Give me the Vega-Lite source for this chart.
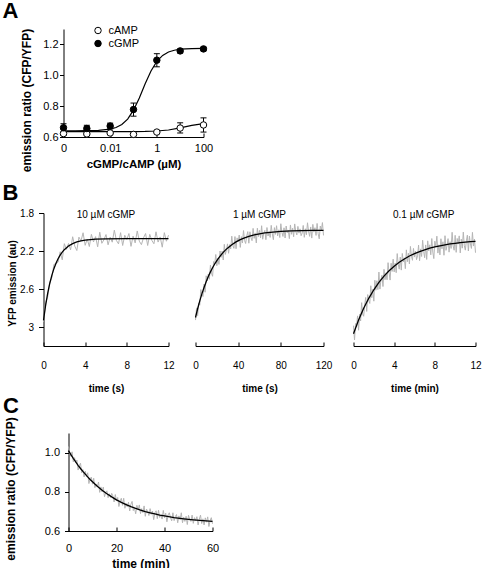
{
  "$schema": "https://vega.github.io/schema/vega-lite/v6.json",
  "padding": {"left": 1.5, "top": 0, "right": 0, "bottom": 0},
  "columns": 1,
  "spacing": -6,
  "resolve": {"scale": {"x": "independent", "y": "independent"}, "legend": {"fill": "independent"}},
  "config": {
    "font": "Liberation Sans",
    "view": {"stroke": null},
    "axis": {"grid": false, "domainColor": "black", "tickColor": "black", "labelColor": "black", "titleColor": "black", "titleFontWeight": "bold", "labelFlush": false, "labelOverlap": false, "labelBound": false, "domainWidth": 1, "tickWidth": 1},
    "title": {"font": "Liberation Sans", "fontWeight": "bold", "fontSize": 22, "color": "black", "anchor": "start", "frame": "group", "baseline": "alphabetic"}
  },
  "concat": [
    {
      "spacing": 0,
      "resolve": {"legend": {"fill": "independent"}},
      "hconcat": [
        {"width": 1, "height": 1, "data": {"values": []}, "mark": {"type": "point"}, "encoding": {}},
        {
          "width": 140,
          "height": 108,
          "title": {"text": "A", "dx": -61, "offset": 2},
          "layer": [
            {
              "data": {"values": [
                {"series": "cGMP", "x": 0.0001, "y": 0.64}, {"series": "cGMP", "x": 0.000316, "y": 0.6402}, {"series": "cGMP", "x": 0.001, "y": 0.6407}, {"series": "cGMP", "x": 0.00316, "y": 0.6428}, {"series": "cGMP", "x": 0.01, "y": 0.651}, {"series": "cGMP", "x": 0.01778, "y": 0.6615}, {"series": "cGMP", "x": 0.03162, "y": 0.681}, {"series": "cGMP", "x": 0.05623, "y": 0.716}, {"series": "cGMP", "x": 0.1, "y": 0.774}, {"series": "cGMP", "x": 0.1778, "y": 0.853}, {"series": "cGMP", "x": 0.3162, "y": 0.945}, {"series": "cGMP", "x": 0.5623, "y": 1.028}, {"series": "cGMP", "x": 1, "y": 1.09}, {"series": "cGMP", "x": 1.778, "y": 1.129}, {"series": "cGMP", "x": 3.162, "y": 1.151}, {"series": "cGMP", "x": 5.623, "y": 1.1625}, {"series": "cGMP", "x": 10, "y": 1.169}, {"series": "cGMP", "x": 31.62, "y": 1.1734}, {"series": "cGMP", "x": 100, "y": 1.1746},
                {"series": "cAMP", "x": 0.0001, "y": 0.635}, {"series": "cAMP", "x": 0.001, "y": 0.635}, {"series": "cAMP", "x": 0.01, "y": 0.635}, {"series": "cAMP", "x": 0.1, "y": 0.6354}, {"series": "cAMP", "x": 0.3162, "y": 0.636}, {"series": "cAMP", "x": 1, "y": 0.6388}, {"series": "cAMP", "x": 3.162, "y": 0.6455}, {"series": "cAMP", "x": 10, "y": 0.659}, {"series": "cAMP", "x": 31.62, "y": 0.6757}, {"series": "cAMP", "x": 100, "y": 0.687}
              ]},
              "mark": {"type": "line", "color": "black", "strokeWidth": 1.2},
              "encoding": {
                "x": {"field": "x", "type": "quantitative", "title": ["cGMP/cAMP (µM)", ""], "scale": {"type": "log", "domain": [0.0001, 100], "nice": false}, "axis": {"values": [0.0001, 0.01, 1, 100], "format": "~g", "labelExpr": "datum.value < 0.001 ? '0' : datum.label", "tickSize": -4, "labelPadding": 9, "labelFontSize": 11, "titleFontSize": 11.5, "titlePadding": 5, "titleLineHeight": 18.25}},
                "y": {"field": "y", "type": "quantitative", "title": "emission ratio (CFP/YFP)", "scale": {"domain": [0.6, 1.3], "nice": false, "zero": false}, "axis": {"values": [0.6, 0.8, 1.0, 1.2], "format": ".1f", "tickSize": 4, "labelPadding": 1.5, "labelFontSize": 11, "labelOverlap": false, "titleFontSize": 12, "titlePadding": 8, "titleX": -30, "titleY": 71}},
                "detail": {"field": "series", "type": "nominal"}
              }
            },
            {
              "data": {"name": "pts", "values": [
                {"series": "cAMP", "x": 0.0001, "y": 0.622, "lo": 0.612, "hi": 0.632}, {"series": "cAMP", "x": 0.001, "y": 0.62, "lo": 0.613, "hi": 0.627}, {"series": "cAMP", "x": 0.01, "y": 0.626, "lo": 0.618, "hi": 0.634}, {"series": "cAMP", "x": 0.1, "y": 0.617, "lo": 0.612, "hi": 0.622}, {"series": "cAMP", "x": 1, "y": 0.632, "lo": 0.626, "hi": 0.638}, {"series": "cAMP", "x": 10, "y": 0.658, "lo": 0.626, "hi": 0.692}, {"series": "cAMP", "x": 100, "y": 0.678, "lo": 0.632, "hi": 0.724},
                {"series": "cGMP", "x": 0.0001, "y": 0.66, "lo": 0.634, "hi": 0.686}, {"series": "cGMP", "x": 0.001, "y": 0.655, "lo": 0.634, "hi": 0.676}, {"series": "cGMP", "x": 0.01, "y": 0.671, "lo": 0.652, "hi": 0.69}, {"series": "cGMP", "x": 0.1, "y": 0.778, "lo": 0.735, "hi": 0.82}, {"series": "cGMP", "x": 1, "y": 1.098, "lo": 1.055, "hi": 1.14}, {"series": "cGMP", "x": 10, "y": 1.158, "lo": 1.145, "hi": 1.17}, {"series": "cGMP", "x": 100, "y": 1.171, "lo": 1.159, "hi": 1.182}
              ]},
              "mark": {"type": "rule", "color": "black", "strokeWidth": 1},
              "encoding": {
                "x": {"field": "x", "type": "quantitative"},
                "y": {"field": "lo", "type": "quantitative", "title": "emission ratio (CFP/YFP)", "axis": {"values": [0.6, 0.8, 1.0, 1.2], "format": ".1f", "tickSize": 4, "labelPadding": 1.5, "labelFontSize": 11, "labelOverlap": false, "titleFontSize": 12, "titlePadding": 8, "titleX": -30, "titleY": 71}},
                "y2": {"field": "hi"}
              }
            },
            {
              "data": {"name": "pts"},
              "mark": {"type": "tick", "orient": "horizontal", "size": 6, "thickness": 1, "color": "black", "opacity": 1},
              "encoding": {
                "x": {"field": "x", "type": "quantitative"},
                "y": {"field": "lo", "type": "quantitative", "title": "emission ratio (CFP/YFP)", "axis": {"values": [0.6, 0.8, 1.0, 1.2], "format": ".1f", "tickSize": 4, "labelPadding": 1.5, "labelFontSize": 11, "labelOverlap": false, "titleFontSize": 12, "titlePadding": 8, "titleX": -30, "titleY": 71}}
              }
            },
            {
              "data": {"name": "pts"},
              "mark": {"type": "tick", "orient": "horizontal", "size": 6, "thickness": 1, "color": "black", "opacity": 1},
              "encoding": {
                "x": {"field": "x", "type": "quantitative"},
                "y": {"field": "hi", "type": "quantitative", "title": "emission ratio (CFP/YFP)", "axis": {"values": [0.6, 0.8, 1.0, 1.2], "format": ".1f", "tickSize": 4, "labelPadding": 1.5, "labelFontSize": 11, "labelOverlap": false, "titleFontSize": 12, "titlePadding": 8, "titleX": -30, "titleY": 71}}
              }
            },
            {
              "data": {"name": "pts"},
              "mark": {"type": "point", "filled": true, "size": 42, "stroke": "black", "strokeWidth": 1, "opacity": 1},
              "encoding": {
                "x": {"field": "x", "type": "quantitative"},
                "y": {"field": "y", "type": "quantitative", "title": "emission ratio (CFP/YFP)", "axis": {"values": [0.6, 0.8, 1.0, 1.2], "format": ".1f", "tickSize": 4, "labelPadding": 1.5, "labelFontSize": 11, "labelOverlap": false, "titleFontSize": 12, "titlePadding": 8, "titleX": -30, "titleY": 71}},
                "fill": {"field": "series", "type": "nominal", "scale": {"domain": ["cAMP", "cGMP"], "range": ["white", "black"]}, "legend": {"title": null, "orient": "none", "legendX": 29, "legendY": -4, "offset": 0, "symbolType": "circle", "symbolSize": 42, "symbolStrokeColor": "black", "symbolStrokeWidth": 1, "labelFontSize": 11, "labelOffset": 5, "rowPadding": 1, "padding": 0, "labelColor": "black"}}
              }
            }
          ]
        }
      ]
    },
    {
      "spacing": 0,
      "hconcat": [
        {"width": 1, "height": 1, "data": {"values": []}, "mark": {"type": "point"}, "encoding": {}},
        {
          "spacing": 18,
          "resolve": {"scale": {"x": "independent", "y": "independent"}},
          "hconcat": [
            {
              "width": 125,
              "height": 133,
              "title": {"text": "B", "dx": -41, "offset": 3},
              "layer": [
                {
                  "data": {"values": [
                    {"t":0,"y":2.945},{"t":0.2,"y":2.744},{"t":0.4,"y":2.686},{"t":0.6,"y":2.532},{"t":0.8,"y":2.481},{"t":1,"y":2.341},{"t":1.2,"y":2.334},{"t":1.4,"y":2.317},{"t":1.6,"y":2.208},{"t":1.8,"y":2.293},{"t":2,"y":2.123},{"t":2.2,"y":2.183},{"t":2.4,"y":2.121},{"t":2.6,"y":2.188},{"t":2.8,"y":2.05},{"t":3,"y":2.149},{"t":3.2,"y":2.195},{"t":3.4,"y":2.054},{"t":3.6,"y":2.094},{"t":3.8,"y":2.008},{"t":4,"y":2.14},{"t":4.2,"y":2.074},{"t":4.4,"y":2.153},{"t":4.6,"y":2.025},{"t":4.8,"y":2.104},{"t":5,"y":2.049},{"t":5.2,"y":2.156},{"t":5.4,"y":2.002},{"t":5.6,"y":2.119},{"t":5.8,"y":2.082},{"t":6,"y":2.027},{"t":6.2,"y":2.135},{"t":6.4,"y":2.054},{"t":6.6,"y":2.107},{"t":6.8,"y":1.981},{"t":7,"y":2.089},{"t":7.2,"y":2.125},{"t":7.4,"y":2.007},{"t":7.6,"y":2.142},{"t":7.8,"y":2.034},{"t":8,"y":2.079},{"t":8.2,"y":2.016},{"t":8.4,"y":2.151},{"t":8.6,"y":2.043},{"t":8.8,"y":2.115},{"t":9,"y":1.989},{"t":9.2,"y":2.097},{"t":9.4,"y":2.133},{"t":9.6,"y":2.061},{"t":9.8,"y":2.016},{"t":10,"y":2.142},{"t":10.2,"y":2.025},{"t":10.4,"y":2.088},{"t":10.6,"y":2.124},{"t":10.8,"y":1.998},{"t":11,"y":2.106},{"t":11.2,"y":2.052},{"t":11.4,"y":2.16},{"t":11.6,"y":2.007},{"t":11.8,"y":2.097},{"t":12,"y":2.034}
                  ]},
                  "mark": {"type": "line", "color": "#b5b5b5", "strokeWidth": 1},
                  "encoding": {
                    "x": {"field": "t", "type": "quantitative", "title": ["time (s)", ""], "scale": {"domain": [0, 12], "nice": false, "zero": false}, "axis": {"values": [0, 4, 8, 12], "tickSize": -4, "labelPadding": 18.5, "labelFontSize": 10, "titleFontSize": 10, "titlePadding": 12.5, "titleLineHeight": 8}},
                    "y": {"field": "y", "type": "quantitative", "title": "YFP emission (au)", "scale": {"domain": [1.8, 3.2], "reverse": true, "nice": false, "zero": false}, "axis": {"values": [1.8, 2.2, 2.6, 3], "format": "~g", "tickSize": 5, "labelPadding": 5, "labelFontSize": 10, "titleFontSize": 10, "titlePadding": 2, "titleY": 70}}
                  }
                },
                {
                  "data": {"values": [
                    {"t":0,"y":2.93},{"t":0.2,"y":2.774},{"t":0.4,"y":2.646},{"t":0.6,"y":2.542},{"t":0.8,"y":2.456},{"t":1,"y":2.386},{"t":1.2,"y":2.329},{"t":1.4,"y":2.282},{"t":1.6,"y":2.244},{"t":1.8,"y":2.212},{"t":2,"y":2.186},{"t":2.4,"y":2.148},{"t":2.8,"y":2.122},{"t":3.2,"y":2.105},{"t":3.6,"y":2.094},{"t":4,"y":2.086},{"t":5,"y":2.076},{"t":6,"y":2.072},{"t":8,"y":2.07},{"t":10,"y":2.07},{"t":12,"y":2.07}
                  ]},
                  "mark": {"type": "line", "color": "black", "strokeWidth": 1.3},
                  "encoding": {
                    "x": {"field": "t", "type": "quantitative"},
                    "y": {"field": "y", "type": "quantitative"}
                  }
                },
                {
                  "data": {"values": [{}]},
                  "mark": {"type": "text", "text": "10 µM cGMP", "fontSize": 10, "baseline": "middle", "dy": 1.5, "color": "black"},
                  "encoding": {
                    "x": {"datum": 6, "type": "quantitative"},
                    "y": {"datum": 1.8, "type": "quantitative"}
                  }
                }
              ]
            },
            {
              "width": 128,
              "height": 133,
              "layer": [
                {
                  "data": {"values": [
                    {"t":0,"y":2.927},{"t":1,"y":2.799},{"t":2,"y":2.88},{"t":3,"y":2.748},{"t":4,"y":2.77},{"t":5,"y":2.606},{"t":6,"y":2.66},{"t":7,"y":2.679},{"t":8,"y":2.548},{"t":9,"y":2.634},{"t":10,"y":2.461},{"t":11,"y":2.514},{"t":12,"y":2.442},{"t":13,"y":2.498},{"t":14,"y":2.348},{"t":15,"y":2.434},{"t":16,"y":2.466},{"t":17,"y":2.311},{"t":18,"y":2.337},{"t":19,"y":2.237},{"t":20,"y":2.355},{"t":21,"y":2.276},{"t":22,"y":2.341},{"t":23,"y":2.2},{"t":24,"y":2.267},{"t":25,"y":2.2},{"t":26,"y":2.295},{"t":27,"y":2.13},{"t":28,"y":2.236},{"t":29,"y":2.189},{"t":30,"y":2.125},{"t":31,"y":2.224},{"t":32,"y":2.133},{"t":33,"y":2.178},{"t":34,"y":2.044},{"t":35,"y":2.144},{"t":36,"y":2.172},{"t":37,"y":2.048},{"t":38,"y":2.176},{"t":39,"y":2.062},{"t":40,"y":2.101},{"t":41,"y":2.032},{"t":42,"y":2.162},{"t":43,"y":2.049},{"t":44,"y":2.116},{"t":45,"y":1.985},{"t":46,"y":2.089},{"t":47,"y":2.121},{"t":48,"y":2.045},{"t":49,"y":1.996},{"t":50,"y":2.118},{"t":51,"y":1.998},{"t":52,"y":2.058},{"t":53,"y":2.091},{"t":54,"y":1.962},{"t":55,"y":2.067},{"t":56,"y":2.01},{"t":57,"y":2.115},{"t":58,"y":1.96},{"t":59,"y":2.048},{"t":60,"y":1.983},{"t":61,"y":2.062},{"t":62,"y":1.934},{"t":63,"y":2.076},{"t":64,"y":2.012},{"t":65,"y":1.983},{"t":66,"y":2.081},{"t":67,"y":1.953},{"t":68,"y":2.042},{"t":69,"y":1.996},{"t":70,"y":2.057},{"t":71,"y":1.93},{"t":72,"y":2.019},{"t":73,"y":2.081},{"t":74,"y":1.954},{"t":75,"y":2.025},{"t":76,"y":1.934},{"t":77,"y":2.041},{"t":78,"y":1.977},{"t":79,"y":2.058},{"t":80,"y":1.913},{"t":81,"y":2.002},{"t":82,"y":2.047},{"t":83,"y":1.956},{"t":84,"y":2.063},{"t":85,"y":1.937},{"t":86,"y":2.008},{"t":87,"y":1.981},{"t":88,"y":2.07},{"t":89,"y":1.926},{"t":90,"y":2.024},{"t":91,"y":1.961},{"t":92,"y":2.05},{"t":93,"y":1.915},{"t":94,"y":1.995},{"t":95,"y":2.031},{"t":96,"y":1.941},{"t":97,"y":2.012},{"t":98,"y":1.967},{"t":99,"y":2.039},{"t":100,"y":2.012},{"t":101,"y":1.931},{"t":102,"y":2.056},{"t":103,"y":1.966},{"t":104,"y":2.029},{"t":105,"y":1.903},{"t":106,"y":1.992},{"t":107,"y":2.046},{"t":108,"y":1.947},{"t":109,"y":2.064},{"t":110,"y":1.92},{"t":111,"y":2.001},{"t":112,"y":1.955},{"t":113,"y":2.036},{"t":114,"y":1.91},{"t":115,"y":2.018},{"t":116,"y":2.072},{"t":117,"y":1.937},{"t":118,"y":1.982},{"t":119,"y":1.901},{"t":120,"y":2.036}
                  ]},
                  "mark": {"type": "line", "color": "#b5b5b5", "strokeWidth": 1},
                  "encoding": {
                    "x": {"field": "t", "type": "quantitative", "title": ["time (s)", ""], "scale": {"domain": [0, 120], "nice": false, "zero": false}, "axis": {"values": [0, 40, 80, 120], "tickSize": -4, "labelPadding": 18.5, "labelFontSize": 10, "titleFontSize": 10, "titlePadding": 12.5, "titleLineHeight": 8}},
                    "y": {"field": "y", "type": "quantitative", "scale": {"domain": [1.8, 3.2], "reverse": true, "nice": false, "zero": false}, "axis": null}
                  }
                },
                {
                  "data": {"values": [
                    {"t":0,"y":2.9},{"t":2,"y":2.808},{"t":4,"y":2.725},{"t":6,"y":2.651},{"t":8,"y":2.584},{"t":10,"y":2.524},{"t":12,"y":2.469},{"t":14,"y":2.42},{"t":16,"y":2.376},{"t":18,"y":2.337},{"t":20,"y":2.301},{"t":22,"y":2.269},{"t":24,"y":2.24},{"t":26,"y":2.214},{"t":28,"y":2.191},{"t":30,"y":2.17},{"t":34,"y":2.134},{"t":38,"y":2.104},{"t":42,"y":2.081},{"t":46,"y":2.062},{"t":50,"y":2.046},{"t":55,"y":2.031},{"t":60,"y":2.019},{"t":65,"y":2.01},{"t":70,"y":2.003},{"t":80,"y":1.994},{"t":90,"y":1.988},{"t":100,"y":1.985},{"t":110,"y":1.983},{"t":120,"y":1.982}
                  ]},
                  "mark": {"type": "line", "color": "black", "strokeWidth": 1.3},
                  "encoding": {
                    "x": {"field": "t", "type": "quantitative"},
                    "y": {"field": "y", "type": "quantitative", "axis": null}
                  }
                },
                {
                  "data": {"values": [{}]},
                  "mark": {"type": "text", "text": "1 µM cGMP", "fontSize": 10, "baseline": "middle", "dy": 1.5, "color": "black"},
                  "encoding": {
                    "x": {"datum": 60, "type": "quantitative"},
                    "y": {"datum": 1.8, "type": "quantitative", "axis": null}
                  }
                }
              ]
            },
            {
              "width": 122,
              "height": 133,
              "layer": [
                {
                  "data": {"values": [
                    {"t":0,"y":2.986},{"t":0.1,"y":3.137},{"t":0.2,"y":2.964},{"t":0.3,"y":2.996},{"t":0.4,"y":2.883},{"t":0.5,"y":3.034},{"t":0.6,"y":2.865},{"t":0.7,"y":2.937},{"t":0.8,"y":2.744},{"t":0.9,"y":2.864},{"t":1,"y":2.887},{"t":1.1,"y":2.77},{"t":1.2,"y":2.689},{"t":1.3,"y":2.836},{"t":1.4,"y":2.659},{"t":1.5,"y":2.722},{"t":1.6,"y":2.752},{"t":1.7,"y":2.566},{"t":1.8,"y":2.692},{"t":1.9,"y":2.602},{"t":2,"y":2.728},{"t":2.1,"y":2.508},{"t":2.2,"y":2.613},{"t":2.3,"y":2.513},{"t":2.4,"y":2.606},{"t":2.5,"y":2.422},{"t":2.6,"y":2.601},{"t":2.7,"y":2.504},{"t":2.8,"y":2.455},{"t":2.9,"y":2.574},{"t":3,"y":2.393},{"t":3.1,"y":2.502},{"t":3.2,"y":2.43},{"t":3.3,"y":2.503},{"t":3.4,"y":2.323},{"t":3.5,"y":2.432},{"t":3.6,"y":2.506},{"t":3.7,"y":2.329},{"t":3.8,"y":2.415},{"t":3.9,"y":2.286},{"t":4,"y":2.42},{"t":4.1,"y":2.328},{"t":4.2,"y":2.428},{"t":4.3,"y":2.227},{"t":4.4,"y":2.339},{"t":4.5,"y":2.391},{"t":4.6,"y":2.264},{"t":4.7,"y":2.401},{"t":4.8,"y":2.226},{"t":4.9,"y":2.315},{"t":5,"y":2.272},{"t":5.1,"y":2.386},{"t":5.2,"y":2.188},{"t":5.3,"y":2.313},{"t":5.4,"y":2.223},{"t":5.5,"y":2.337},{"t":5.6,"y":2.152},{"t":5.7,"y":2.255},{"t":5.8,"y":2.298},{"t":5.9,"y":2.173},{"t":6,"y":2.264},{"t":6.1,"y":2.2},{"t":6.2,"y":2.291},{"t":6.3,"y":2.251},{"t":6.4,"y":2.138},{"t":6.5,"y":2.302},{"t":6.6,"y":2.178},{"t":6.7,"y":2.258},{"t":6.8,"y":2.087},{"t":6.9,"y":2.203},{"t":7,"y":2.271},{"t":7.1,"y":2.136},{"t":7.2,"y":2.289},{"t":7.3,"y":2.093},{"t":7.4,"y":2.198},{"t":7.5,"y":2.135},{"t":7.6,"y":2.24},{"t":7.7,"y":2.069},{"t":7.8,"y":2.211},{"t":7.9,"y":2.28},{"t":8,"y":2.097},{"t":8.1,"y":2.155},{"t":8.2,"y":2.044},{"t":8.3,"y":2.222},{"t":8.4,"y":2.135},{"t":8.5,"y":2.241},{"t":8.6,"y":2.071},{"t":8.7,"y":2.177},{"t":8.8,"y":2.103},{"t":8.9,"y":2.245},{"t":9,"y":2.039},{"t":9.1,"y":2.193},{"t":9.2,"y":2.143},{"t":9.3,"y":2.07},{"t":9.4,"y":2.212},{"t":9.5,"y":2.102},{"t":9.6,"y":2.173},{"t":9.7,"y":2.003},{"t":9.8,"y":2.146},{"t":9.9,"y":2.192},{"t":10,"y":2.035},{"t":10.1,"y":2.214},{"t":10.2,"y":2.068},{"t":10.3,"y":2.127},{"t":10.4,"y":2.041},{"t":10.5,"y":2.22},{"t":10.6,"y":2.075},{"t":10.7,"y":2.17},{"t":10.8,"y":2.001},{"t":10.9,"y":2.144},{"t":11,"y":2.191},{"t":11.1,"y":2.094},{"t":11.2,"y":2.033},{"t":11.3,"y":2.2},{"t":11.4,"y":2.043},{"t":11.5,"y":2.126},{"t":11.6,"y":2.173},{"t":11.7,"y":2.004},{"t":11.8,"y":2.148},{"t":11.9,"y":2.075},{"t":12,"y":2.218}
                  ]},
                  "mark": {"type": "line", "color": "#b5b5b5", "strokeWidth": 1},
                  "encoding": {
                    "x": {"field": "t", "type": "quantitative", "title": ["time (min)", ""], "scale": {"domain": [0, 12], "nice": false, "zero": false}, "axis": {"values": [0, 4, 8, 12], "tickSize": -4, "labelPadding": 18.5, "labelFontSize": 10, "titleFontSize": 10, "titlePadding": 12.5, "titleLineHeight": 8}},
                    "y": {"field": "y", "type": "quantitative", "scale": {"domain": [1.8, 3.2], "reverse": true, "nice": false, "zero": false}, "axis": null}
                  }
                },
                {
                  "data": {"values": [
                    {"t":0,"y":3.07},{"t":0.5,"y":2.926},{"t":1,"y":2.803},{"t":1.5,"y":2.698},{"t":2,"y":2.608},{"t":2.5,"y":2.53},{"t":3,"y":2.465},{"t":3.5,"y":2.408},{"t":4,"y":2.36},{"t":4.5,"y":2.319},{"t":5,"y":2.284},{"t":5.5,"y":2.253},{"t":6,"y":2.228},{"t":6.5,"y":2.206},{"t":7,"y":2.187},{"t":7.5,"y":2.171},{"t":8,"y":2.157},{"t":8.5,"y":2.145},{"t":9,"y":2.135},{"t":9.5,"y":2.126},{"t":10,"y":2.119},{"t":10.5,"y":2.112},{"t":11,"y":2.107},{"t":11.5,"y":2.102},{"t":12,"y":2.098}
                  ]},
                  "mark": {"type": "line", "color": "black", "strokeWidth": 1.3},
                  "encoding": {
                    "x": {"field": "t", "type": "quantitative"},
                    "y": {"field": "y", "type": "quantitative", "axis": null}
                  }
                },
                {
                  "data": {"values": [{}]},
                  "mark": {"type": "text", "text": "0.1 µM cGMP", "fontSize": 10, "baseline": "middle", "dy": 1.5, "color": "black"},
                  "encoding": {
                    "x": {"datum": 6.9, "type": "quantitative"},
                    "y": {"datum": 1.8, "type": "quantitative", "axis": null}
                  }
                }
              ]
            }
          ]
        }
      ]
    },
    {
      "spacing": 0,
      "hconcat": [
        {"width": 1, "height": 1, "data": {"values": []}, "mark": {"type": "point"}, "encoding": {}},
        {
          "width": 144,
          "height": 98,
          "title": {"text": "C", "dx": -65.5, "offset": -1.5},
          "layer": [
            {
              "data": {"values": [
                {"t":0,"y":1.031},{"t":0.5,"y":1.0},{"t":1,"y":0.981},{"t":1.5,"y":1.004},{"t":2,"y":0.953},{"t":2.5,"y":0.974},{"t":3,"y":0.95},{"t":3.5,"y":0.962},{"t":4,"y":0.911},{"t":4.5,"y":0.933},{"t":5,"y":0.946},{"t":5.5,"y":0.897},{"t":6,"y":0.913},{"t":6.5,"y":0.876},{"t":7,"y":0.905},{"t":7.5,"y":0.877},{"t":8,"y":0.897},{"t":8.5,"y":0.842},{"t":9,"y":0.866},{"t":9.5,"y":0.875},{"t":10,"y":0.839},{"t":10.5,"y":0.869},{"t":11,"y":0.821},{"t":11.5,"y":0.839},{"t":12,"y":0.825},{"t":12.5,"y":0.85},{"t":13,"y":0.797},{"t":13.5,"y":0.825},{"t":14,"y":0.799},{"t":14.5,"y":0.824},{"t":15,"y":0.775},{"t":15.5,"y":0.797},{"t":16,"y":0.805},{"t":16.5,"y":0.77},{"t":17,"y":0.79},{"t":17.5,"y":0.771},{"t":18,"y":0.792},{"t":18.5,"y":0.779},{"t":19,"y":0.748},{"t":19.5,"y":0.786},{"t":20,"y":0.753},{"t":20.5,"y":0.771},{"t":21,"y":0.725},{"t":21.5,"y":0.752},{"t":22,"y":0.767},{"t":22.5,"y":0.731},{"t":23,"y":0.767},{"t":23.5,"y":0.716},{"t":24,"y":0.741},{"t":24.5,"y":0.723},{"t":25,"y":0.747},{"t":25.5,"y":0.702},{"t":26,"y":0.736},{"t":26.5,"y":0.751},{"t":27,"y":0.704},{"t":27.5,"y":0.717},{"t":28,"y":0.688},{"t":28.5,"y":0.731},{"t":29,"y":0.708},{"t":29.5,"y":0.733},{"t":30,"y":0.689},{"t":30.5,"y":0.714},{"t":31,"y":0.694},{"t":31.5,"y":0.728},{"t":32,"y":0.675},{"t":32.5,"y":0.712},{"t":33,"y":0.699},{"t":33.5,"y":0.679},{"t":34,"y":0.714},{"t":34.5,"y":0.685},{"t":35,"y":0.702},{"t":35.5,"y":0.658},{"t":36,"y":0.693},{"t":36.5,"y":0.703},{"t":37,"y":0.663},{"t":37.5,"y":0.706},{"t":38,"y":0.669},{"t":38.5,"y":0.683},{"t":39,"y":0.661},{"t":39.5,"y":0.705},{"t":40,"y":0.668},{"t":40.5,"y":0.691},{"t":41,"y":0.647},{"t":41.5,"y":0.682},{"t":42,"y":0.693},{"t":42.5,"y":0.668},{"t":43,"y":0.652},{"t":43.5,"y":0.693},{"t":44,"y":0.653},{"t":44.5,"y":0.673},{"t":45,"y":0.684},{"t":45.5,"y":0.642},{"t":46,"y":0.677},{"t":46.5,"y":0.658},{"t":47,"y":0.693},{"t":47.5,"y":0.642},{"t":48,"y":0.671},{"t":48.5,"y":0.649},{"t":49,"y":0.675},{"t":49.5,"y":0.633},{"t":50,"y":0.68},{"t":50.5,"y":0.659},{"t":51,"y":0.649},{"t":51.5,"y":0.681},{"t":52,"y":0.639},{"t":52.5,"y":0.668},{"t":53,"y":0.653},{"t":53.5,"y":0.673},{"t":54,"y":0.631},{"t":54.5,"y":0.66},{"t":55,"y":0.681},{"t":55.5,"y":0.638},{"t":56,"y":0.662},{"t":56.5,"y":0.631},{"t":57,"y":0.667},{"t":57.5,"y":0.645},{"t":58,"y":0.672},{"t":58.5,"y":0.623},{"t":59,"y":0.653},{"t":59.5,"y":0.668},{"t":60,"y":0.637}
              ]},
              "mark": {"type": "line", "color": "#b5b5b5", "strokeWidth": 1},
              "encoding": {
                "x": {"field": "t", "type": "quantitative", "title": "time (min)", "scale": {"domain": [0, 60], "nice": false, "zero": false}, "axis": {"values": [0, 20, 40, 60], "tickSize": -4, "labelPadding": 15, "labelFontSize": 11, "titleFontSize": 12, "titlePadding": 5}},
                "y": {"field": "y", "type": "quantitative", "title": "emission ratio (CFP/YFP)", "scale": {"domain": [0.6, 1.1], "nice": false, "zero": false}, "axis": {"values": [0.6, 0.8, 1.0], "format": ".1f", "tickSize": 4, "labelPadding": 5, "labelFontSize": 11, "titleFontSize": 12, "titlePadding": 27, "titleY": 55.5}}
              }
            },
            {
              "data": {"values": [
                {"t":0,"y":1.01},{"t":1,"y":0.99},{"t":2,"y":0.971},{"t":3,"y":0.953},{"t":4,"y":0.935},{"t":5,"y":0.919},{"t":6,"y":0.904},{"t":7,"y":0.89},{"t":8,"y":0.876},{"t":9,"y":0.863},{"t":10,"y":0.851},{"t":12,"y":0.828},{"t":14,"y":0.808},{"t":16,"y":0.79},{"t":18,"y":0.774},{"t":20,"y":0.759},{"t":22,"y":0.746},{"t":24,"y":0.735},{"t":26,"y":0.724},{"t":28,"y":0.715},{"t":30,"y":0.707},{"t":32,"y":0.699},{"t":34,"y":0.693},{"t":36,"y":0.687},{"t":38,"y":0.681},{"t":40,"y":0.677},{"t":44,"y":0.668},{"t":48,"y":0.662},{"t":52,"y":0.657},{"t":56,"y":0.653},{"t":60,"y":0.649}
              ]},
              "mark": {"type": "line", "color": "black", "strokeWidth": 1.3},
              "encoding": {
                "x": {"field": "t", "type": "quantitative"},
                "y": {"field": "y", "type": "quantitative"}
              }
            }
          ]
        }
      ]
    }
  ]
}
